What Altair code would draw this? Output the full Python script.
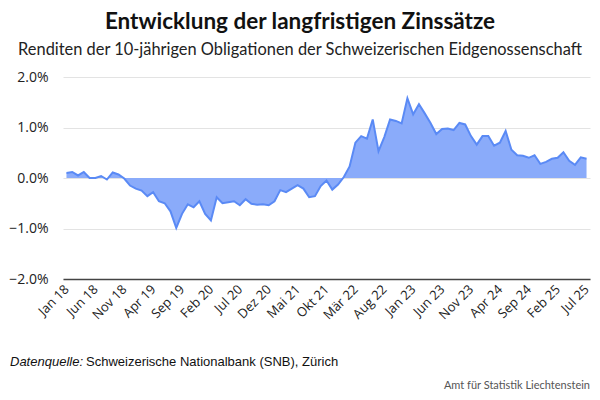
import altair as alt
import pandas as pd

month_names = ["Jan", "Feb", "Mär", "Apr", "Mai", "Jun", "Jul", "Aug", "Sep", "Okt", "Nov", "Dez"]
start_year = 18
n_months = 91
months = [f"{month_names[i % 12]} {start_year + i // 12}" for i in range(n_months)]

rendite = [
    0.10, 0.12, 0.05, 0.12, 0.00, 0.00, 0.04, -0.03, 0.11, 0.07,
    -0.01, -0.15, -0.21, -0.25, -0.36, -0.28, -0.46, -0.50, -0.66, -0.99,
    -0.71, -0.52, -0.58, -0.46, -0.71, -0.84, -0.38, -0.50, -0.48, -0.46,
    -0.54, -0.42, -0.51, -0.53, -0.52, -0.54, -0.46, -0.24, -0.28, -0.21,
    -0.14, -0.21, -0.38, -0.36, -0.16, -0.05, -0.23, -0.13, 0.02, 0.23,
    0.70, 0.83, 0.78, 1.16, 0.53, 0.81, 1.16, 1.13, 1.08, 1.58,
    1.26, 1.46, 1.28, 1.09, 0.87, 0.97, 0.98, 0.95, 1.09, 1.06,
    0.83, 0.66, 0.83, 0.83, 0.64, 0.70, 0.93, 0.56, 0.45, 0.44,
    0.40, 0.45, 0.28, 0.32, 0.38, 0.40, 0.51, 0.34, 0.26, 0.41,
    0.38,
]

tick_labels = months[::5]
y_ticks = [-2, -1, 0, 1, 2]

title_text = "Entwicklung der langfristigen Zinssätze"
subtitle_text = "Renditen der 10-jährigen Obligationen der Schweizerischen Eidgenossenschaft"
source_label = "Datenquelle:"
source_text = "Schweizerische Nationalbank (SNB), Zürich"
credit_text = "Amt für Statistik Liechtenstein"

df = pd.DataFrame({"Monat": months, "Rendite": rendite})

W, H = 527, 202

x_enc = alt.X(
    "Monat:O",
    sort=None,
    scale=alt.Scale(type="point", padding=0.6),
    axis=alt.Axis(
        values=tick_labels,
        title=None,
        labelAngle=-45,
        labelAlign="right",
        labelBaseline="middle",
        labelPadding=8,
        labelFontSize=13,
        labelColor="#222",
        labelFont="Open Sans",
        ticks=False,
        domain=True,
        domainColor="#444",
        domainWidth=1.5,
        grid=False,
    ),
)
y_enc = alt.Y(
    "Rendite:Q",
    scale=alt.Scale(domain=[-2, 2], nice=False),
    axis=alt.Axis(
        values=y_ticks,
        title=None,
        labelExpr="format(datum.value, '.1f') + '%'",
        labelFontSize=14,
        labelColor="#222",
        labelFont="Open Sans",
        labelPadding=15,
        ticks=False,
        domain=False,
        grid=True,
        gridColor="#e3e3e3",
        gridWidth=1.2,
    ),
)

base = alt.Chart(df)
area = base.mark_area(color="#8aabfa", opacity=1).encode(x=x_enc, y=y_enc, y2=alt.datum(0))
line = base.mark_line(color="#5a8af5", strokeWidth=2).encode(x=x_enc, y=y_enc)

def txt(text, x, y, **kw):
    return alt.Chart(pd.DataFrame({"t": [text]})).mark_text(**kw).encode(
        text="t:N", x=alt.value(x), y=alt.value(y)
    )

title = txt(title_text, 237, -55, font="Lato", fontSize=22.5, fontWeight="bold", color="#111", align="center", baseline="middle")
subtitle = txt(subtitle_text, 237, -27, font="Lato", fontSize=16.4, color="#222", align="center", baseline="middle")
src1 = txt(source_label, -53, 285, font="Liberation Sans", fontSize=13, fontStyle="italic", color="#111", align="left", baseline="middle")
src2 = txt(source_text, 23, 285, font="Liberation Sans", fontSize=13, color="#111", align="left", baseline="middle")
credit = txt(credit_text, 527, 309, font="Lato", fontSize=11, color="#555", align="right", baseline="middle")

chart = (
    alt.layer(area, line, title, subtitle, src1, src2, credit)
    .properties(
        width=W,
        height=H,
        autosize=alt.AutoSizeParams(type="none"),
        padding={"left": 55, "top": 69, "right": 2, "bottom": 113},
    )
    .configure_view(stroke=None)
)

chart.save("out.html", embed_options={"renderer": "svg", "actions": False})
